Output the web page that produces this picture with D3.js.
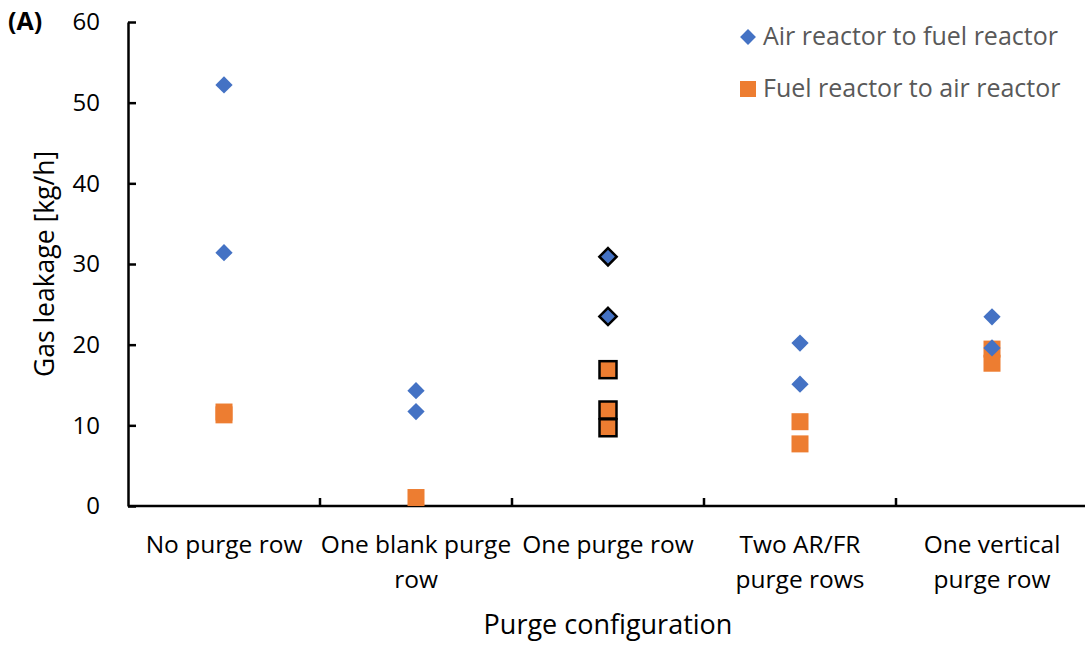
<!DOCTYPE html>
<html>
<head>
<meta charset="utf-8">
<script src="https://cdn.jsdelivr.net/npm/d3@7"></script>
<style>
  body { margin: 0; background: #fff; }
  svg { font-family: "Open Sans", Lato, sans-serif; }
</style>
</head>
<body>
<div id="chart"></div>
<script>
  // data
  const categories = ["No purge row", "One blank purge row", "One purge row", "Two AR/FR purge rows", "One vertical purge row"];
  const categoryLines = [["No purge row"], ["One blank purge", "row"], ["One purge row"], ["Two AR/FR", "purge rows"], ["One vertical", "purge row"]];
  const airToFuel = [[52.2, 31.4], [14.3, 11.7], [30.9, 23.5], [20.2, 15.1], [23.45, 19.6]];
  const fuelToAir = [[11.3, 11.65], [1.05], [16.9, 11.9, 9.7], [10.45, 7.7], [19.45, 17.7]];
  const outlinedCategories = ["One purge row"];
  const yTicks = [0, 10, 20, 30, 40, 50, 60];
  const seriesNames = ["Air reactor to fuel reactor", "Fuel reactor to air reactor"];

  const W = 1085, H = 645;
  const plotLeft = 128, plotRight = 1088, plotTop = 22, plotBottom = 506;
  const blue = "#4472c4", orange = "#ed7d31";

  const svg = d3.select("#chart").append("svg")
    .attr("width", W).attr("height", H);

  const x = d3.scaleBand().domain(categories).range([plotLeft, plotRight]).paddingInner(0).paddingOuter(0);
  const y = d3.scaleLinear().domain([0, 60]).range([plotBottom, plotTop]);

  // y axis, ticks pointing into the plot
  const yAxis = svg.append("g")
    .attr("transform", `translate(${plotLeft},0)`)
    .call(d3.axisLeft(y).tickValues(yTicks).tickSizeInner(-8).tickSizeOuter(0).tickPadding(28));
  yAxis.select(".domain").attr("stroke", "#000").attr("stroke-width", 2.5);
  yAxis.selectAll(".tick line").attr("stroke", "#000").attr("stroke-width", 2.5);
  yAxis.selectAll(".tick text")
    .attr("font-size", 24).attr("fill", "#000").attr("font-family", "'Open Sans', sans-serif");

  // x axis with ticks between the categories
  const xg = svg.append("g");
  xg.append("line")
    .attr("x1", plotLeft).attr("x2", plotRight)
    .attr("y1", y(0)).attr("y2", y(0))
    .attr("stroke", "#000").attr("stroke-width", 2.5);
  xg.selectAll(".xtick").data(categories.slice(1)).enter().append("line")
    .attr("class", "xtick")
    .attr("x1", d => x(d)).attr("x2", d => x(d))
    .attr("y1", y(0)).attr("y2", y(0) - 8)
    .attr("stroke", "#000").attr("stroke-width", 2.5);

  const labels = xg.selectAll(".xlabel").data(categories).enter().append("text")
    .attr("class", "xlabel")
    .attr("text-anchor", "middle")
    .attr("font-size", 24.5)
    .attr("fill", "#000");
  labels.each(function (d, i) {
    d3.select(this).selectAll("tspan").data(categoryLines[i]).enter().append("tspan")
      .attr("x", x(d) + x.bandwidth() / 2)
      .attr("y", (t, j) => 553 + j * 35)
      .text(t => t);
  });

  // axis titles
  svg.append("text")
    .attr("transform", `translate(54,${(plotTop + plotBottom) / 2}) rotate(-90)`)
    .attr("text-anchor", "middle")
    .attr("font-size", 26.5)
    .text("Gas leakage [kg/h]");

  svg.append("text")
    .attr("x", (plotLeft + plotRight) / 2).attr("y", 634)
    .attr("text-anchor", "middle")
    .attr("font-size", 27)
    .text("Purge configuration");

  svg.append("text")
    .attr("x", 8).attr("y", 30)
    .attr("font-size", 25).attr("font-weight", "bold")
    .text("(A)");

  // points
  const diamond = d3.symbol().type(d3.symbolDiamond2).size(190);
  const sq = 17;

  const flatAir = airToFuel.flatMap((vals, i) => vals.map(v => ({ cat: categories[i], v })));
  const flatFuel = fuelToAir.flatMap((vals, i) => vals.map(v => ({ cat: categories[i], v })));
  const cx = d => x(d.cat) + x.bandwidth() / 2;
  const isOutlined = d => outlinedCategories.includes(d.cat);

  svg.append("g").selectAll("rect").data(flatFuel).enter().append("rect")
    .attr("x", d => cx(d) - sq / 2)
    .attr("y", d => y(d.v) - sq / 2)
    .attr("width", sq).attr("height", sq)
    .attr("fill", orange)
    .attr("stroke", d => isOutlined(d) ? "#000" : "none")
    .attr("stroke-width", 2.5);

  svg.append("g").selectAll("path").data(flatAir).enter().append("path")
    .attr("d", diamond)
    .attr("transform", d => `translate(${cx(d)},${y(d.v)})`)
    .attr("fill", blue)
    .attr("stroke", d => isOutlined(d) ? "#000" : "none")
    .attr("stroke-width", 2.5);

  // legend
  const legend = svg.append("g");
  legend.append("path")
    .attr("d", d3.symbol().type(d3.symbolDiamond2).size(160))
    .attr("transform", "translate(748,37)")
    .attr("fill", blue);
  legend.append("rect")
    .attr("x", 740).attr("y", 81).attr("width", 16).attr("height", 16)
    .attr("fill", orange);
  legend.selectAll("text").data(seriesNames).enter().append("text")
    .attr("x", 763)
    .attr("y", (d, i) => 45 + i * 52)
    .attr("font-size", 25)
    .attr("fill", "#595959")
    .text(d => d);
</script>
</body>
</html>
